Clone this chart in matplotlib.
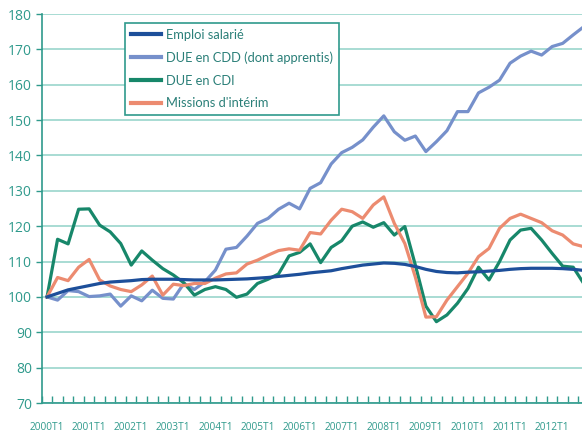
import matplotlib
matplotlib.use("Agg")
import matplotlib.pyplot as plt
from matplotlib.ticker import FixedLocator

plt.rcParams['font.family'] = ['Open Sans', 'DejaVu Sans']

# quarterly index, base 100 = 2000T1
years = list(range(2000, 2013))
tick_labels = [f"{y}T1" for y in years]

emploi = [100, 101, 102, 102.6, 103.2, 103.8, 104.2, 104.4, 104.6, 104.9,
          105, 105, 105, 104.9, 104.8, 104.8, 104.8, 104.9, 105, 105.1,
          105.3, 105.5, 105.8, 106.1, 106.4, 106.8, 107.1, 107.4, 108, 108.5,
          109, 109.3, 109.6, 109.5, 109.2, 108.6, 107.8, 107.2, 106.9, 106.8,
          107, 107.1, 107.3, 107.5, 107.8, 108, 108.1, 108.1, 108.1, 108,
          107.8, 107.5]
due_cdd = [100, 99.1, 101.8, 101.5, 100.1, 100.3, 100.8, 97.4, 100.3, 98.9,
           101.9, 99.6, 99.4, 103.8, 102.1, 104.3, 107.6, 113.5, 114, 117.2,
           120.8, 122.2, 124.8, 126.5, 124.9, 130.7, 132.3, 137.6, 140.8, 142.3,
           144.4, 148, 151.2, 146.7, 144.3, 145.5, 141.1, 143.9, 147, 152.4,
           152.4, 157.7, 159.3, 161.3, 166.1, 168.1, 169.5, 168.4, 170.8, 171.7,
           174.1, 176.4]
due_cdi = [100, 116.3, 115, 124.8, 124.9, 120.3, 118.4, 115.1, 109, 113,
           110.4, 108, 106.2, 104, 100.5, 102.1, 102.9, 102.1, 99.9, 100.8,
           103.8, 105, 106.5, 111.6, 112.6, 115, 109.7, 114, 115.9, 120,
           121.2, 119.7, 121, 117.5, 119.9, 109, 97.4, 93, 94.9, 98.2,
           102.4, 108.4, 104.8, 110, 116.1, 118.9, 119.4, 116.1, 112.3, 108.7,
           108.4, 103.8]
interim = [100, 105.5, 104.6, 108.4, 110.6, 104.8, 103.1, 102.1, 101.5, 103.4,
           105.9, 100.5, 103.6, 103.2, 103.8, 103.8, 105.3, 106.5, 106.8, 109.3,
           110.4, 111.8, 113.1, 113.6, 113.2, 118.2, 117.8, 121.7, 124.8, 124.1,
           122.2, 126, 128.3, 120.8, 115.1, 105.6, 94.3, 94.4, 99.1, 102.9,
           106.7, 111.4, 113.7, 119.4, 122.2, 123.4, 122.2, 121, 118.7, 117.5,
           115, 114.2]

teal = '#2f9a8c'
grid_col = '#9ad6cc'

fig = plt.figure(figsize=(5.82, 4.34), dpi=100)
ax = fig.add_axes([0.0718, 0.0714, 0.9402, 0.8963])

x = list(range(len(emploi)))
ax.plot(x, emploi, color='#1d4f9a', lw=2.3, label='Emploi salarié', zorder=4)
ax.plot(x, due_cdd, color='#7690cb', lw=2.3, label='DUE en CDD (dont apprentis)', zorder=3)
ax.plot(x, due_cdi, color='#17876a', lw=2.3, label='DUE en CDI', zorder=3)
ax.plot(x, interim, color='#ec8b70', lw=2.3, label="Missions d'intérim", zorder=3)

ax.set_xlim(-0.5, len(emploi) - 0.5)
ax.set_ylim(70, 180)
ax.set_yticks(range(70, 181, 10))
ax.yaxis.grid(True, color=grid_col, lw=1.2)
ax.set_axisbelow(True)

# labels every year, small tick between each quarter
ax.set_xticks(range(0, len(emploi), 4))
ax.set_xticklabels(tick_labels)
ax.xaxis.set_minor_locator(FixedLocator([i - 0.5 for i in range(len(emploi) + 1)]))
ax.tick_params(axis='x', which='major', length=0, pad=14, labelsize=7.3, labelcolor=teal)
ax.tick_params(axis='x', which='minor', length=5, width=1, color=teal, direction='in')
ax.tick_params(axis='y', length=4, width=1, color=teal, labelsize=10, labelcolor=teal, pad=3)

for s in ['top', 'right']:
    ax.spines[s].set_visible(False)
for s in ['left', 'bottom']:
    ax.spines[s].set_color(teal)
    ax.spines[s].set_linewidth(1.2)

leg = ax.legend(loc='upper left', bbox_to_anchor=(125 / 582, 1 - 23 / 434),
                bbox_transform=fig.transFigure, borderaxespad=0,
                prop={'family': ['Lato', 'DejaVu Sans'], 'size': 9.3},
                handlelength=2.3, handletextpad=0.45, labelspacing=0.82,
                borderpad=0.45, fancybox=False, framealpha=1)
leg.get_frame().set_edgecolor(teal)
leg.get_frame().set_linewidth(1.2)
for line in leg.get_lines():
    line.set_linewidth(3)
for t in leg.get_texts():
    t.set_color('#2a7f78')

fig.savefig('out.png', dpi=100)
